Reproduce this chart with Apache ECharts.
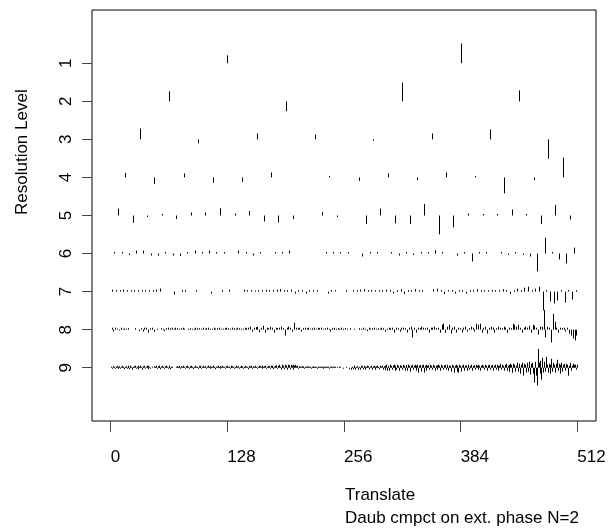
<!DOCTYPE html>
<html>
<head>
<meta charset="utf-8">
<script src="https://cdn.jsdelivr.net/npm/echarts@6/dist/echarts.min.js"></script>
<style>html,body{margin:0;padding:0;background:#fff;}#c{width:610px;height:529px;}</style>
</head>
<body>
<div id="c"></div>
<script>
// Wavelet coefficients per resolution level
const level1 = [8, 20];
const level2 = [10, -10, 19, 11];
const level3 = [11, -4, 6, 5, -1.5, 6, 10, -19.5];
const level4 = [4.5, -6.5, 4, -5.5, -4.5, 5, 0, 1.5, -3.5, 4, -2.5, 5, 1.5, -16, -2.5, 20];
const level5 = [7, -7.5, -1.5, 1.5, -3.5, 3, 3, 7.5, 2, 4.5, -6, -7, -3.5, 0, 3.5, -1.5,
  0, -8.5, 7, -8, -8.5, 11.5, -19, -12, 2, 1.5, 1.5, 6, 1.5, -8.5, 10.5, -4];
const level6 = [1.5, 1.5, -1.5, 3, 3, -2, -2, 1.5, -2, -2.5, 1.5, 3, 1.5, 3, 1.5, 1.5,
  0, 3, 1.5, -2, 1.5, 0, 1.5, 1.5, 3, 0, 0, 0, 0, 1.5, 1.5, 1.5,
  1.5, 0, -3, 1.5, 1.5, 0, 1.5, -2, 1.5, -1.5, 1.5, 1.5, 3.5, 1.5, 0, -2,
  1.5, -8, 1.5, 1.5, 0, 1.5, -1.5, 1.5, -1.5, -3, -18, 16, 1.5, -6, -10, 6];
const level7 = [2, 1.5, 1.5, 2, 1.5, 1.5, 1.5, 1.5, 1.5, 1.5, 1.5, 1.5, 2, 3, 0, 0,
  0, -3, 0, 1.5, 1.5, 0, 0, 1.5, 0, 0, 0, -2, 0, 0, 1.5, 0,
  2, 0, 0, 0, 2, 1.5, 1.5, 1, 1.5, 1.5, 2, 1.5, 1.5, 2, 2.5, 1.5,
  1.5, 2, -2, 1.5, 1.5, -2, 1.5, 1.5, 1.5, 0, 0, -2, 1.5, 1.5, 0, 0,
  1.5, 0, 1.5, 1.5, 2, 2.5, 1.5, 1.5, 1.5, 1.5, 1.5, 2, 1.5, -2, 1.5, 2.5,
  -2.5, 1.5, 1.5, 2.5, 1.5, 1.5, 0, 0, 2.5, 3, 1.5, -2.5, 1.5, 1.5, -2, 1.5,
  1.5, -2, 1.5, 1.5, 2.5, 1.5, 1.5, 1.5, 1.5, 1.5, 1.5, 2.5, 1.5, -2.5, 1.5, 3,
  1.5, 4, 5, 1.5, 3, 5, -19, 1.5, -10, -12, -9, 1.5, -11, 1.5, -8, 1.5];
const level8 = [2, -2, 2, 1, -1, 2, 1, 1, 1, 1.5, 0, 0, 0, 1.5, 0, -1.5,
  1.5, -2, 2, 2, -3, 1.5, 2, -2, 0, 1, 0, 1.5, 1, -1.5, 1.5, 2,
  1.5, 2, 1, 2, 1.5, 1, 1.5, 2, 1, 0, 1, 1.5, 1, 1, 2, 1.5,
  1.5, 1, 2, 1, 1.5, 2, 1, 1, 2, 1, 1.5, 2, 1, 1, 1.5, 2,
  1.5, 1, 2, 1.5, 1, 2, 1.5, 1, 1, 2, 1.5, 2, 3, -2, 2, 2.5,
  3, -2.5, 2, 4, -3, 2, 1.5, 3, 2, -3, 2, 1.5, 2, 3, 1.5, -6,
  2, 3, 2, -2, 7, 2, 1.5, 2, -2, 1.5, 2, 1.5, 2, 1, 1.5, 2,
  1, 2, 1.5, 2, 1, 1.5, 2, 1, -2, 1.5, 2, 1, 1.5, 1, 2, 1,
  1.5, 1, 0, 1.5, 0, 1, 0, 0, 1.5, 1, 2, 1, -1.5, 2, 1, 1.5,
  2, 1, 1.5, 1, 2, 1.5, -2, 1, 2, 1.5, 2, -3, 2, 1.5, -2, 2,
  2, 1.5, -3, 2, 3, -8, 2, -3, 2, 1.5, 3, 2, 1.5, 2, -3, 2,
  2, 3, 1.5, 2, -3, 5, 6, -3, 3, 5, -4, 2, 3, -3, 2, 1.5,
  -3, 2, 3, -2, 1.5, 3, 2, -2, 6, 5, 6, -3, 2, 3, -4, 2,
  3, 2, -3, 1.5, 3, 2, 1.5, 3, 2, -3, 2, 1.5, 6, 5, 3, 5,
  2, -3, 2, 3, 2, 4, -3, 5, 4, 2, -5, 3, 3, 20, -8, 3,
  2, -13, 16, 8, 2, -3, 2, 1.5, 2, -2, 2, -4, -6, -9, -11, -6];
const level9 = [1, -1, 1.5, 1, -1, 1, 2, -1, 1, 1.5, -1, 1, 2, 1, -1.5, 1,
  1.5, -1, 2, 1, -1.5, 2, 1, -2, 1, 1.5, 2, -1, 1, 2, -1.5, 1,
  2, 1, -2, 1.5, 2, -1, 1, 2, -1.5, 2, 1, -1, 0, 1, 0, 1.5,
  1, 2, -1, 1.5, 1, 2, -1.5, 1, 2, 1, -1, 1.5, 2, 1, -1, 1,
  2, -1.5, 1, 1, 0, 0, 0, 1, 1.5, 1, 2, 1, -1, 1.5, 1, 2,
  1, -1, 1.5, 2, 1, -1, 1, 1.5, 2, 1, -1.5, 1, 2, 1, 1, -1,
  1.5, 2, 1, -1, 1, 2, 1, 1.5, -1, 1, 2, 1, -1, 1.5, 1, 1,
  2, 1, -1.5, 1, 1, 2, 1, -1, 1.5, 1, 2, 1, 1, -1, 1.5, 2,
  1, 1, -1, 2, 1, 1.5, 1, -1, 1, 2, 1, 1.5, -1, 1, 2, 1,
  1.5, -1, 1, 2, 1, 1, -1.5, 2, 1, 1, 2, -1, 1.5, 1, 2, 1,
  -1, 1, 2, 1.5, 1, -1, 2, 1, 1.5, 2, -1, 1, 2, 1.5, -1, 2,
  1, 2, -1.5, 1, 2, 2.5, -1, 2, 3, 1, -2, 2, 3, 2, -1.5, 3,
  2, -2, 3, 2.5, -1.5, 3, 2, 3, -2, 2, 3, 1.5, 2, -1, 1.5, 1,
  1, 1.5, 1, 1, -1, 1, 1, 1.5, 1, 1, 1, -1, 1, 1, 1, 1,
  1, 1, -1, 1, 1, 1, 1, 1, -1, 1, 1, 1, 1, 1, 1, -1,
  1, 1, 1, 1, 0, 1, 1, 0, 1, 0, 1, 1, 0, 0, -1, 0,
  0, 0, 1, 0, 0, -1.5, 0, -2, 1, -1.5, 2, 1, -2, 1, 1.5, -2,
  1, -2, 2, 1.5, -1.5, 2, 1, -2, 1, 2, 1.5, -1.5, 1, 2, -2, 1.5,
  2, 1, -2, 1.5, 2, 1, -1.5, 2, 1, 2, -2, 1.5, 2, -2.5, 3, -3,
  2, -3, 3, 2, -2, 2.5, 3, -3, 2, -2, 3, 2, -3, 2.5, 2, -2,
  3, 2, -3, 2, 2.5, -3, 3, 2, -4, 2, 3, -2, 2, 3, -3, 2,
  3, -5, 2, 3, -4, 2.5, 3, -5, 2, 3, -3, 2, 2.5, -2, 3, 2,
  -2, 3, 2, -3, 2, 2.5, -2, 3, 2, -3, 3, 2, -2, 2.5, 3, -2,
  2, 3, -3, 2, 2, -4, 3, 2, -5, 2, 3, -4, 2, -5, 3, 2,
  -4, 2, 3, -3, 2, 2.5, -3, 2, 3, -2, 2, 3, -3, 2, 2.5, -2,
  3, 2, -2, 3, 2, -3, 2, 3, 2, -2, 3, 2, -3, 2, 2.5, 3,
  -2, 2, 3, -3, 2, 3, -2, 3, 2, -3, 2, 4, -2, 3, 2, -3,
  3, 4, -3, 2, 3, -4, 4, 3, -5, 4, 3, -4, 2, 5, -4, 3,
  4, -6, 3, 5, -8, 4, 3, -5, 5, -4, 3, 6, -7, 4, 5, -6,
  -15, 6, -8, -18, 19, 5, -6, 7, -12, 10, -5, 6, -4, 11, 3, -5,
  4, -6, 3, 9, -4, 5, 3, -5, 4, 8, -3, 4, -6, 3, 5, -4,
  3, 4, -3, 4, 3, -8, 2, 3, 5, -3, 2, 4, 3, 3, -2, 3];

const levels = [level1, level2, level3, level4, level5, level6, level7, level8, level9];
const xTicks = [0, 128, 256, 384, 512];
const yTicks = [1, 2, 3, 4, 5, 6, 7, 8, 9];
const N = 512;

let maxAbs = 0;
levels.forEach(a => a.forEach(v => { maxAbs = Math.max(maxAbs, Math.abs(v)); }));
const SCALE = 0.52 / maxAbs;

const data = [];
levels.forEach((arr, i) => {
  const lev = i + 1;
  const step = N / arr.length;
  arr.forEach((v, k) => data.push([(k + 0.5) * step, lev, v]));
});

const FONT = "'Liberation Sans', Arial, sans-serif";
const chart = echarts.init(document.getElementById('c'), null, {renderer: 'canvas'});
chart.setOption({
  animation: false,
  backgroundColor: '#fff',
  grid: {left: 92, right: 14, top: 10, bottom: 108, show: true, borderColor: '#000', borderWidth: 1, backgroundColor: 'transparent'},
  xAxis: {
    type: 'value', min: -20.48, max: 532.48, position: 'bottom',
    axisLine: {show: false, onZero: false},
    splitLine: {show: false},
    axisTick: {show: true, customValues: xTicks, length: 11, lineStyle: {color: '#444', width: 1}},
    axisLabel: {customValues: xTicks, align: 'left', margin: 28, fontSize: 17, color: '#000', fontFamily: FONT}
  },
  yAxis: {
    type: 'value', inverse: true, min: -0.4, max: 10.4, position: 'left',
    axisLine: {show: false, onZero: false},
    splitLine: {show: false},
    axisTick: {show: true, customValues: yTicks, length: 10, lineStyle: {color: '#444', width: 1}},
    axisLabel: {customValues: yTicks, rotate: 90, margin: 17, fontSize: 17, color: '#000', fontFamily: FONT}
  },
  graphic: [
    {type: 'text', x: 345, y: 495, style: {text: 'Translate', fontSize: 17, fontFamily: FONT, fill: '#000', align: 'left', verticalAlign: 'middle'}},
    {type: 'text', x: 345, y: 518, style: {text: 'Daub cmpct on ext. phase N=2', fontSize: 17, fontFamily: FONT, fill: '#000', align: 'left', verticalAlign: 'middle'}},
    {type: 'text', x: 22, y: 215, rotation: Math.PI / 2, style: {text: 'Resolution Level', fontSize: 17, fontFamily: FONT, fill: '#000', align: 'left', verticalAlign: 'middle'}}
  ],
  series: [{
    type: 'custom',
    coordinateSystem: 'cartesian2d',
    encode: {x: 0, y: 1},
    data: data,
    renderItem: function (params, api) {
      const x = api.value(0), lev = api.value(1), v = api.value(2);
      if (!v) return null;
      const p0 = api.coord([x, lev]);
      const p1 = api.coord([x, lev - v * SCALE]);
      const px = Math.round(p0[0]) + 0.5;
      return {type: 'line', shape: {x1: px, y1: p0[1], x2: px, y2: p1[1]}, style: {stroke: '#000', lineWidth: 1}};
    }
  }]
});
</script>
</body>
</html>
